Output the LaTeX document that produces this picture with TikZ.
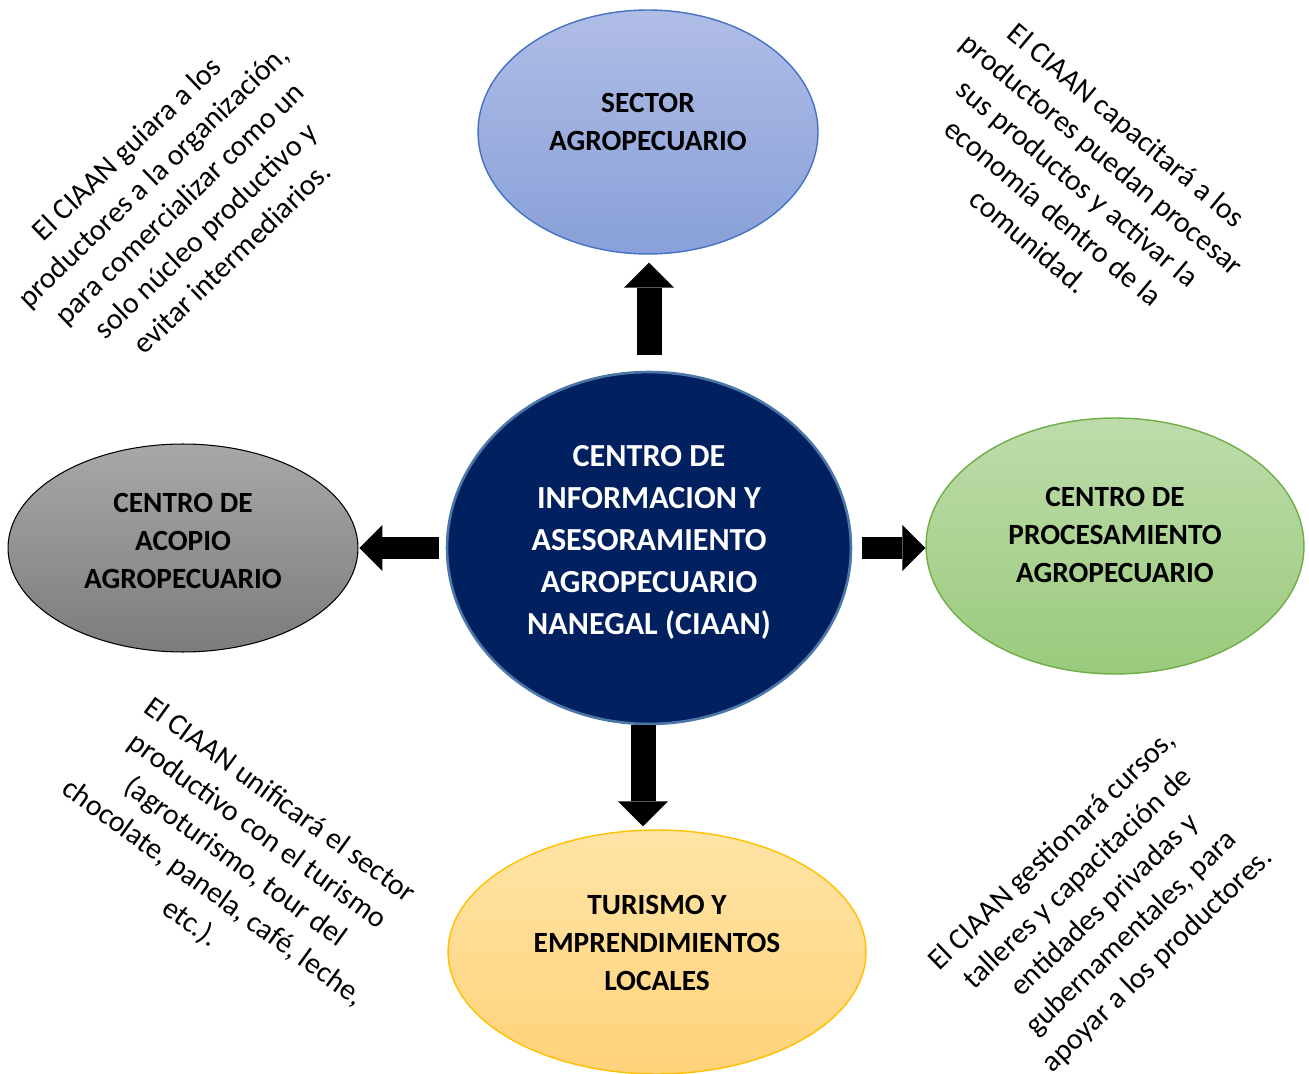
\documentclass[tikz,border=0pt]{standalone}
\usepackage{fontspec}
\setmainfont{Carlito}
\usetikzlibrary{arrows.meta,calc,shapes.geometric}
\definecolor{navy}{HTML}{002060}
\definecolor{navyline}{HTML}{4A76A8}
\definecolor{bluetop}{HTML}{B0BDE6}
\definecolor{bluebot}{HTML}{88A0D8}
\definecolor{blueline}{HTML}{4472C4}
\definecolor{graytop}{HTML}{A8A8A8}
\definecolor{graybot}{HTML}{7C7C7C}
\definecolor{greentop}{HTML}{BEDCAB}
\definecolor{greenbot}{HTML}{9ACA7C}
\definecolor{greenline}{HTML}{70AD47}
\definecolor{yeltop}{HTML}{FFE4A6}
\definecolor{yelbot}{HTML}{FFD27A}
\definecolor{yelline}{HTML}{FFC000}
\begin{document}
\begin{tikzpicture}[x=0.02cm,y=-0.02cm,
  oval/.style={ellipse, inner sep=0pt, align=center,
    font=\bfseries\fontsize{16.7}{21.6}\selectfont},
  note/.style={align=center, inner sep=0pt,
    font=\fontsize{17}{21.6}\selectfont},
  varrow/.style={draw=black, line width=0.5cm,
    -{Triangle[width=1.0cm, length=0.5cm, line width=0pt]}},
  harrow/.style={draw=black, line width=0.44cm,
    -{Triangle[width=0.92cm, length=0.46cm, line width=0pt]}}]
\useasboundingbox (0,0) rectangle (1309,1074);

% ellipses
\node[oval, draw=blueline, line width=0.8pt, top color=bluetop, bottom color=bluebot,
  minimum width=6.8cm, minimum height=4.88cm, text depth=0.42cm] (top) at (648,132)
  {SECTOR\\AGROPECUARIO};
\node[oval, draw=navyline, line width=1.5pt, fill=navy, text=white,
  font=\bfseries\fontsize{18.3}{23.9}\selectfont,
  minimum width=8.08cm, minimum height=7.04cm, text depth=0.32cm] (c) at (649,548)
  {CENTRO DE\\INFORMACION Y\\ASESORAMIENTO\\AGROPECUARIO\\NANEGAL (CIAAN)};
\node[oval, draw=black, line width=0.6pt, top color=graytop, bottom color=graybot,
  minimum width=7.0cm, minimum height=4.16cm, text depth=0.28cm] (left) at (183,548)
  {CENTRO DE\\ACOPIO\\AGROPECUARIO};
\node[oval, draw=greenline, line width=0.8pt, top color=greentop, bottom color=greenbot,
  minimum width=7.56cm, minimum height=5.12cm, text depth=0.44cm] (right) at (1115,546)
  {CENTRO DE\\PROCESAMIENTO\\AGROPECUARIO};
\node[oval, draw=yelline, line width=0.8pt, top color=yeltop, bottom color=yelbot,
  minimum width=8.36cm, minimum height=4.88cm, text depth=0.36cm] (bot) at (657,952)
  {TURISMO Y\\EMPRENDIMIENTOS\\LOCALES};

% block arrows
\draw[varrow, shorten <=0.32cm, shorten >=0.16cm] (c.north) -- (c.north|-top.south);
\draw[varrow, shorten >=0.06cm] ($(c.south)+(-6,0)$) -- ($(c.south|-bot.north)+(-6,0)$);
\draw[harrow, shorten <=0.14cm, shorten >=0.02cm] (c.west) -- (c.west-|left.east);
\draw[harrow, shorten <=0.2cm] (c.east) -- (c.east-|right.west);

% rotated notes
\node[note, rotate=44] (ntl) at (179,203)
  {El CIAAN guiara a los\\productores a la organización,\\para comercializar como un\\solo núcleo productivo y\\evitar intermediarios.};
\node[note, rotate=-40] (ntr) at (1078,183)
  {El CIAAN capacitará a los\\productores puedan procesar\\sus productos y activar la\\economía dentro de la\\comunidad.};
\node[note, rotate=-36] (nbl) at (235,862)
  {El CIAAN unificará el sector\\productivo con el turismo\\(agroturismo, tour del\\chocolate, panela, café, leche,\\etc.).};
\node[note, rotate=44] (nbr) at (1105,906)
  {El CIAAN gestionará cursos,\\talleres y capacitación de\\entidades privadas y\\gubernamentales, para\\apoyar a los productores.};
\end{tikzpicture}
\end{document}
